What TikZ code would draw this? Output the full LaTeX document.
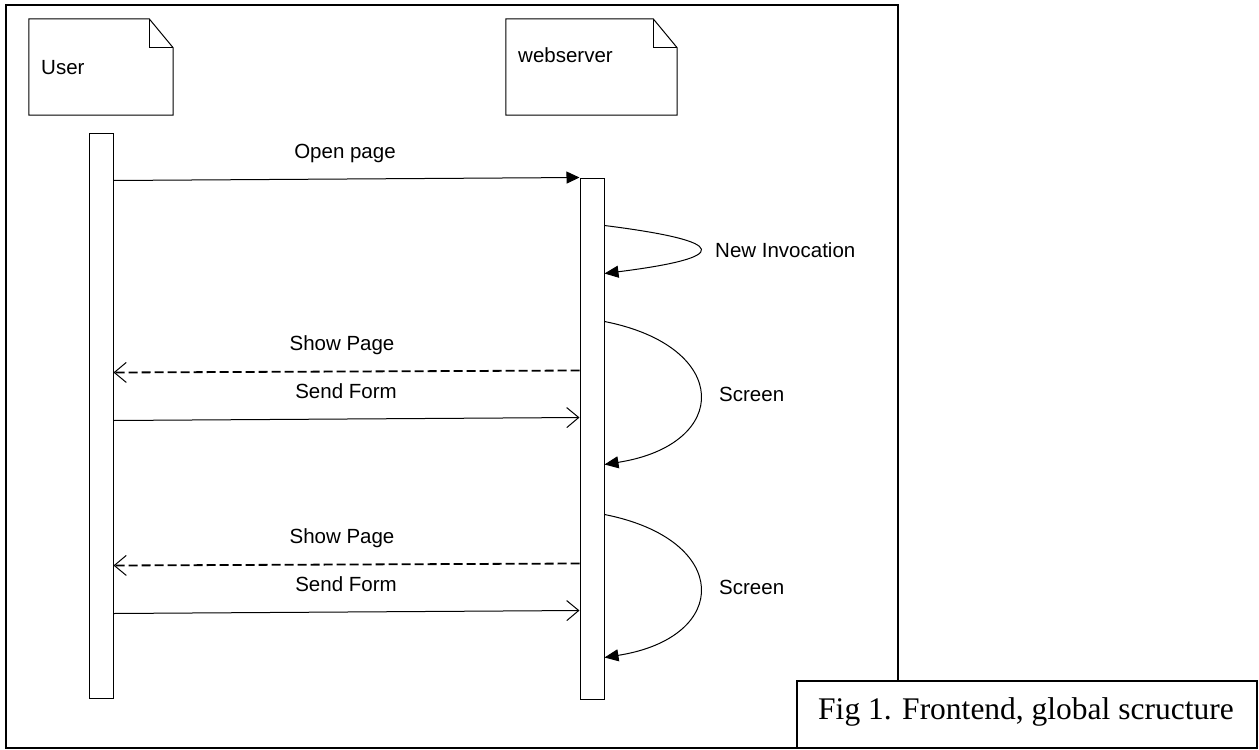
\documentclass[tikz,border=0pt]{standalone}
\usepackage{fontspec}
\setmainfont{Liberation Serif}
\newfontfamily\arialf{Liberation Sans}
\usetikzlibrary{arrows.meta}
\begin{document}
\begin{tikzpicture}[x=1pt,y=-1pt,
  lbl/.style={font=\arialf\fontsize{20.5}{24}\selectfont, inner sep=0pt},
  bar/.style={draw, line width=1pt, fill=white, inner sep=0pt, minimum width=24pt},
  note/.style={inner sep=0pt},
  noteline/.style={line width=1pt},
  msg/.style={line width=1pt, -{Triangle[length=13pt,width=12pt]}},
  call/.style={line width=1pt, -{Straight Barb[length=12pt,width=20pt]}},
  reply/.style={line width=1.8pt, dash pattern=on 9pt off 4pt, -{Straight Barb[length=12pt,width=20pt,line width=1pt]}},
  self/.style={line width=1pt, -{Triangle[length=14pt,width=12pt]}},
  frame/.style={draw, line width=2pt, inner sep=0pt}
]
\fill[white] (0,0) rectangle (1259,750);
\useasboundingbox (0,0) rectangle (1259,750);
% outer frame
\node[frame, minimum width=892pt, minimum height=743pt] (outer) at (452,376.5) {};
% caption box
\node[frame, fill=white, minimum width=460pt, minimum height=67pt] (capbox) at (1027,714.5) {};
\node[inner sep=0pt, anchor=base, font=\fontsize{31.5}{36}\selectfont] (cap) at (1026,719) {Fig 1. Frontend, global scructure};
% notes
\node[note, minimum width=144pt, minimum height=96pt] (un) at (101,67) {};
\draw[noteline] (un.north west) -- ([xshift=-24pt]un.north east) -- ([yshift=-29pt]un.north east) -- (un.south east) -- (un.south west) -- cycle;
\draw[noteline] ([xshift=-24pt]un.north east) |- ([yshift=-29pt]un.north east);
\node[lbl, anchor=base west] (usr) at (41,74) {User};
\node[note, minimum width=171pt, minimum height=96pt] (wn) at (591.5,67) {};
\draw[noteline] (wn.north west) -- ([xshift=-24pt]wn.north east) -- ([yshift=-29pt]wn.north east) -- (wn.south east) -- (wn.south west) -- cycle;
\draw[noteline] ([xshift=-24pt]wn.north east) |- ([yshift=-29pt]wn.north east);
\node[lbl, anchor=base west] (ws) at (518,62) {webserver};
% activation bars
\node[bar, minimum height=565pt] (ub) at (101,415.5) {};
\node[bar, minimum height=521pt] (wb) at (592,438.5) {};
% messages
\draw[msg] ([yshift=-48pt]ub.north east) -- (wb.north west);
\node[lbl, anchor=base] (lop) at (345,158) {Open page};
\draw[self] ([yshift=-48pt]wb.north east) .. controls +(127,16) and +(127,-16) .. ([yshift=-96pt]wb.north east);
\node[lbl, anchor=base west] (lni) at (715,257) {New Invocation};
\draw[self] ([yshift=-144pt]wb.north east) .. controls +(127,25) and +(127,-20) .. ([yshift=-287pt]wb.north east);
\node[lbl, anchor=base west] (ls1) at (719,401) {Screen};
\draw[self] ([yshift=-337pt]wb.north east) .. controls +(127,25) and +(127,-20) .. ([yshift=-480pt]wb.north east);
\node[lbl, anchor=base west] (ls2) at (719,594) {Screen};
% group 1
\draw[reply] ([yshift=-193pt]wb.north west) -- ([yshift=-240pt]ub.north east);
\node[lbl, anchor=base] (lsp1) at (342,350) {Show Page};
\draw[call] ([yshift=-288pt]ub.north east) -- ([yshift=-240pt]wb.north west);
\node[lbl, anchor=base] (lsf1) at (346,398) {Send Form};
% group 2
\draw[reply] ([yshift=-386pt]wb.north west) -- ([yshift=-433pt]ub.north east);
\node[lbl, anchor=base] (lsp2) at (342,543) {Show Page};
\draw[call] ([yshift=-481pt]ub.north east) -- ([yshift=-433pt]wb.north west);
\node[lbl, anchor=base] (lsf2) at (346,591) {Send Form};
\end{tikzpicture}
\end{document}
